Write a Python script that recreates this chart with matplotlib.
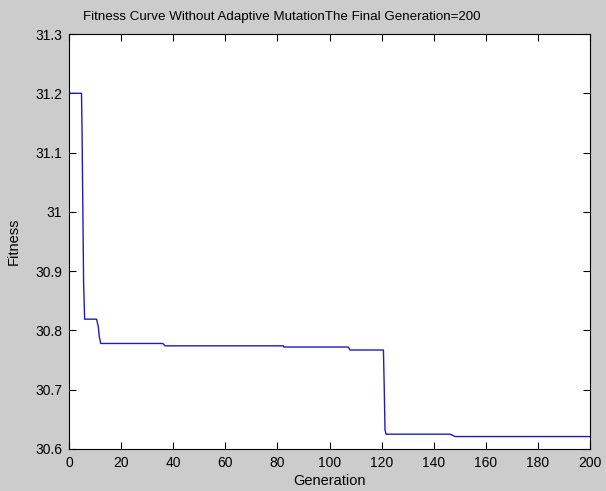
import matplotlib
matplotlib.use("Agg")
import matplotlib.pyplot as plt

plt.rcParams['font.family'] = ['Liberation Sans', 'DejaVu Sans']

# Curve vertices (generation, fitness)
generation = [0, 4.8, 5.0, 5.3, 5.6, 6.0, 10.6, 11.3, 11.6, 12.2, 36.0, 36.9,
              82.3, 82.5, 107.2, 107.9, 120.7, 121.0, 121.3, 121.7, 146.3, 148.2, 200]
fitness = [31.2, 31.2, 31.138, 31.012, 30.882, 30.819, 30.819, 30.805, 30.790, 30.778,
           30.778, 30.774, 30.774, 30.772, 30.772, 30.767, 30.767, 30.706, 30.633,
           30.625, 30.625, 30.621, 30.621]
xticks = [0, 20, 40, 60, 80, 100, 120, 140, 160, 180, 200]
yticks = [30.6, 30.7, 30.8, 30.9, 31.0, 31.1, 31.2, 31.3]
ytick_labels = ['30.6', '30.7', '30.8', '30.9', '31', '31.1', '31.2', '31.3']

fig = plt.figure(figsize=(6.06, 4.91), dpi=100, facecolor='#cccccc')
ax = fig.add_axes([69/606, 1-449/491, 521/606, 415/491])
ax.set_facecolor('white')
ax.plot(generation, fitness, color='#1c1cc0', lw=1.0)
ax.set_xlim(0, 200)
ax.set_ylim(30.6, 31.3)
ax.set_xticks(xticks)
ax.set_xticklabels([str(t) for t in xticks])
ax.set_yticks(yticks)
ax.set_yticklabels(ytick_labels)
ax.tick_params(direction='in', top=True, right=True, length=5, width=0.8,
               labelsize=10, colors='black', pad=5)
for s in ax.spines.values():
    s.set_linewidth(0.8)
ax.set_xlabel('Generation', fontsize=10.5, labelpad=3)
ax.set_ylabel('Fitness', fontsize=10.5, labelpad=10)
fig.text(282/606, 1-17/491, 'Fitness Curve Without Adaptive MutationThe Final Generation=200',
         ha='center', va='center', fontsize=9.6)
fig.savefig('out.png', dpi=100, facecolor=fig.get_facecolor())
